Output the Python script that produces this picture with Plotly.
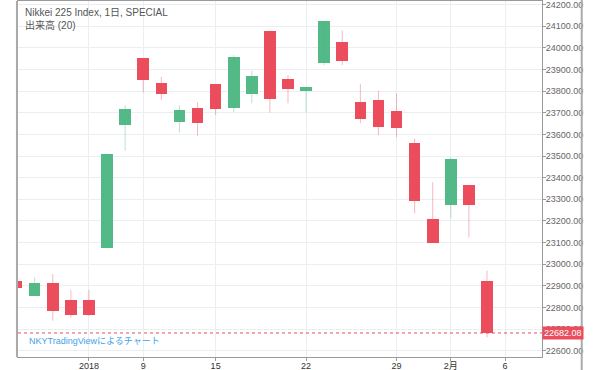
import plotly.graph_objects as go

# ---- data ----
dates = ["12/26", "12/27", "12/28", "12/29", "2018", "1/4", "1/5", "1/9", "1/10", "1/11",
         "1/12", "1/15", "1/16", "1/17", "1/18", "1/19", "1/22", "1/23", "1/24", "1/25",
         "1/26", "1/29", "1/30", "1/31", "2/1", "2/2", "2/5"]
open_ = [22924, 22853, 22914, 22834, 22834, 23073, 23644, 23954, 23837, 23658,
         23724, 23832, 23721, 23786, 24080, 23856, 23801, 23929, 24029, 23751,
         23759, 23710, 23562, 23208, 23274, 23366, 22922]
high_ = [22930, 22939, 22955, 22881, 22881, 23510, 23735, 23954, 23867, 23735,
         23749, 23832, 23967, 23895, 24080, 23875, 23818, 24126, 24080, 23833,
         23802, 23790, 23582, 23379, 23494, 23366, 22970]
low_ = [22891, 22853, 22739, 22753, 22760, 23073, 23525, 23793, 23759, 23608,
        23594, 23690, 23705, 23744, 23701, 23744, 23701, 23921, 23921, 23652,
        23597, 23587, 23235, 23099, 23212, 23124, 22662]
close_ = [22891, 22914, 22784, 22764, 22764, 23510, 23718, 23852, 23787, 23713,
          23654, 23716, 23957, 23870, 23764, 23809, 23818, 24126, 23941, 23671,
          23633, 23631, 23292, 23099, 23488, 23274, 22682.08]

tick_idx = [4, 7, 11, 16, 21, 24, 27]
tick_text = ["2018", "9", "15", "22", "29", "2月", "6"]

title_text = "Nikkei 225 Index, 1日, SPECIAL"
sub_text = "出来高 (20)"
watermark = "NKYTradingViewによるチャート"

UP = "#53b987"
DOWN = "#eb4d5c"
UP_W = "rgba(83,185,135,0.40)"
DOWN_W = "rgba(235,77,92,0.40)"

FONT = "Liberation Sans, Noto Sans CJK JP, sans-serif"

xs = list(range(len(dates)))

fig = go.Figure()

# wicks
for up in (True, False):
    wx, wy = [], []
    for i in xs:
        if (close_[i] >= open_[i]) == up:
            wx += [i, i, None]
            wy += [low_[i], high_[i], None]
    fig.add_trace(go.Scatter(x=wx, y=wy, mode="lines",
                             line=dict(color=UP_W if up else DOWN_W, width=1),
                             hoverinfo="skip", showlegend=False))

# bodies
base = [min(o, c) for o, c in zip(open_, close_)]
height = [max(abs(c - o), 3) for o, c in zip(open_, close_)]
colors = [UP if c >= o else DOWN for o, c in zip(open_, close_)]
fig.add_trace(go.Bar(x=xs, y=height, base=base, width=0.64,
                     marker=dict(color=colors, line=dict(width=0)),
                     showlegend=False, hoverinfo="skip"))

last = close_[-1]

fig.update_layout(
    width=600, height=370,
    margin=dict(l=18, r=58, t=1, b=13, autoexpand=False),
    paper_bgcolor="white", plot_bgcolor="white",
    font=dict(family=FONT, size=10, color="#4a4e57"),
    bargap=0,
    xaxis=dict(range=[0.077, 29.04], tickvals=tick_idx, ticktext=tick_text,
               showgrid=True, gridcolor="#e9eff3", gridwidth=1,
               showline=True, linecolor="#9a9a9a", linewidth=1, mirror=True,
               ticks="outside", ticklen=3, tickcolor="#9a9a9a",
               ticklabelstandoff=-3, automargin=False, ticklabeloverflow="allow",
               tickfont=dict(size=9, color="#333"), zeroline=False, fixedrange=True),
    yaxis=dict(range=[22571, 24217], side="right", dtick=100, tick0=22600,
               tickformat=".2f", showgrid=True, gridcolor="#e9eff3", gridwidth=1,
               showline=True, linecolor="#9a9a9a", linewidth=1, mirror=True,
               ticks="outside", ticklen=3, tickcolor="#9a9a9a",
               ticklabelstandoff=-2, automargin=False, ticklabeloverflow="allow",
               tickfont=dict(size=9, color="#666"), zeroline=False),
    shapes=[
        dict(type="line", xref="paper", yref="y", x0=0, x1=1, y0=last, y1=last,
             line=dict(color=DOWN, width=1, dash="dot")),
        dict(type="line", xref="paper", yref="paper", x0=-0.002, x1=-0.002, y0=0, y1=1,
             line=dict(color="#aaaaaa", width=2)),
        dict(type="line", xref="paper", yref="paper", x0=1.0758, x1=1.0758, y0=-0.05, y1=1.01,
             line=dict(color="#aaaaaa", width=2)),
    ],
    annotations=[
        dict(text=title_text, xref="paper", yref="paper", x=0.009, y=0.99,
             xanchor="left", yanchor="top", showarrow=False,
             font=dict(size=10, color="#555")),
        dict(text=sub_text, xref="paper", yref="paper", x=0.009, y=0.955,
             xanchor="left", yanchor="top", showarrow=False,
             font=dict(size=10, color="#555")),
        dict(text=watermark, xref="paper", yref="paper", x=0.018, y=0.045,
             xanchor="left", yanchor="middle", showarrow=False,
             font=dict(size=9, color="#3fa3ea")),
        dict(text="%.2f" % last, xref="paper", yref="y", x=1.0, y=last,
             xanchor="left", yanchor="middle", showarrow=False,
             bgcolor=DOWN, borderpad=1, font=dict(size=9, color="white")),
    ],
)

fig.write_html("out.html", config={"displayModeBar": False},
               post_script="document.body.style.margin='0';")
